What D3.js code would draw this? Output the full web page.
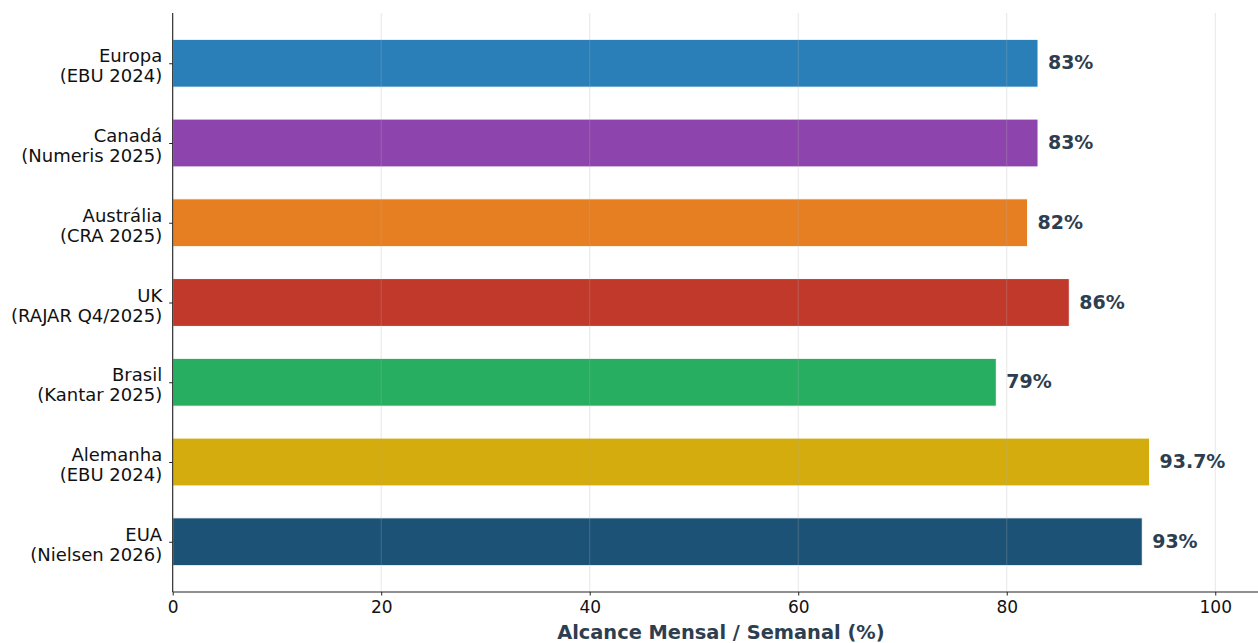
<!DOCTYPE html>
<html>
<head>
<meta charset="utf-8">
<script src="https://cdn.jsdelivr.net/npm/d3@7"></script>
<style>
  html, body { margin: 0; padding: 0; background: #fff; }
  svg { display: block; font-family: "DejaVu Sans", sans-serif; }
</style>
</head>
<body>
<svg id="chart" width="1258" height="643"></svg>
<script>
// Radio reach by market, listed top to bottom
const regions = ["Europa", "Canadá", "Austrália", "UK", "Brasil", "Alemanha", "EUA"];
const sources = ["(EBU 2024)", "(Numeris 2025)", "(CRA 2025)", "(RAJAR Q4/2025)", "(Kantar 2025)", "(EBU 2024)", "(Nielsen 2026)"];
const reach = [83, 83, 82, 86, 79, 93.7, 93];
const valueLabels = ["83%", "83%", "82%", "86%", "79%", "93.7%", "93%"];
const barColors = ["#2a7fb8", "#8e44ad", "#e67e22", "#c0392b", "#27ae60", "#d4ac0d", "#1b5276"];
const xTicks = [0, 20, 40, 60, 80, 100];
const xTitle = "Alcance Mensal / Semanal (%)";

const svg = d3.select("#chart");
const plotLeft = 172.7, plotRight = 1258, plotTop = 13, plotBottom = 592;

const x = d3.scaleLinear().domain([0, 104.1]).range([plotLeft, plotRight]);
// categorical positions: index 0 at top; bar height 0.6 with 5% margins
const n = regions.length;
const y = d3.scaleLinear().domain([-0.63, n - 1 + 0.63]).range([plotTop, plotBottom]);
const barH = (y(0.3) - y(-0.3));

// bars
svg.append("g").selectAll("rect").data(reach).join("rect")
  .attr("x", x(0))
  .attr("y", (d, i) => y(i) - barH / 2)
  .attr("width", d => x(d) - x(0))
  .attr("height", barH)
  .attr("fill", (d, i) => barColors[i])
  .attr("stroke", "#fff")
  .attr("stroke-width", 1);

// vertical grid drawn above the bars, faint
svg.append("g").selectAll("line").data(xTicks).join("line")
  .attr("x1", d => x(d)).attr("x2", d => x(d))
  .attr("y1", plotTop).attr("y2", plotBottom)
  .attr("stroke", "#b0b0b0")
  .attr("stroke-opacity", 0.3)
  .attr("stroke-width", 1);

// value labels
svg.append("g").selectAll("text").data(reach).join("text")
  .attr("x", d => x(d + 0.95))
  .attr("y", (d, i) => y(i) - 0.5)
  .attr("dy", "0.35em")
  .attr("font-size", 19)
  .attr("font-weight", "bold")
  .attr("fill", "#2c3e50")
  .text((d, i) => valueLabels[i]);

// x axis
const xAxis = d3.axisBottom(x).tickValues(xTicks).tickSize(3.5).tickPadding(5).tickFormat(d3.format("d"));
const gx = svg.append("g").attr("transform", `translate(0,${plotBottom})`).call(xAxis);
gx.select(".domain").attr("stroke", "#222").attr("stroke-width", 1.1)
  .attr("d", `M${plotLeft},0H${plotRight}`);
gx.selectAll(".tick line").attr("stroke", "#222");
gx.selectAll(".tick text").attr("font-size", 17).attr("fill", "#111")
  .attr("font-family", "DejaVu Sans, sans-serif");

// y axis (two-line category labels)
const yAxis = d3.axisLeft(y).tickValues(d3.range(n)).tickSize(3.5).tickFormat("");
const gy = svg.append("g").attr("transform", `translate(${plotLeft},0)`).call(yAxis);
gy.select(".domain").attr("stroke", "#222").attr("stroke-width", 1.1)
  .attr("d", `M0,${plotTop}V${plotBottom}`);
gy.selectAll(".tick line").attr("stroke", "#222");

const lbl = svg.append("g").selectAll("text").data(regions).join("text")
  .attr("x", plotLeft - 10.5)
  .attr("y", (d, i) => y(i))
  .attr("text-anchor", "end")
  .attr("font-size", 18)
  .attr("fill", "#111");
lbl.append("tspan").attr("x", plotLeft - 10.5).attr("dy", -1).text(d => d);
lbl.append("tspan").attr("x", plotLeft - 10.5).attr("dy", 20).text((d, i) => sources[i]);

// x axis title
svg.append("text")
  .attr("x", (x.range()[0] + x.range()[1]) / 2 + 5.5)
  .attr("y", 638.5)
  .attr("text-anchor", "middle")
  .attr("font-size", 19.4)
  .attr("font-weight", "bold")
  .attr("fill", "#2c3e50")
  .text(xTitle);
</script>
</body>
</html>
